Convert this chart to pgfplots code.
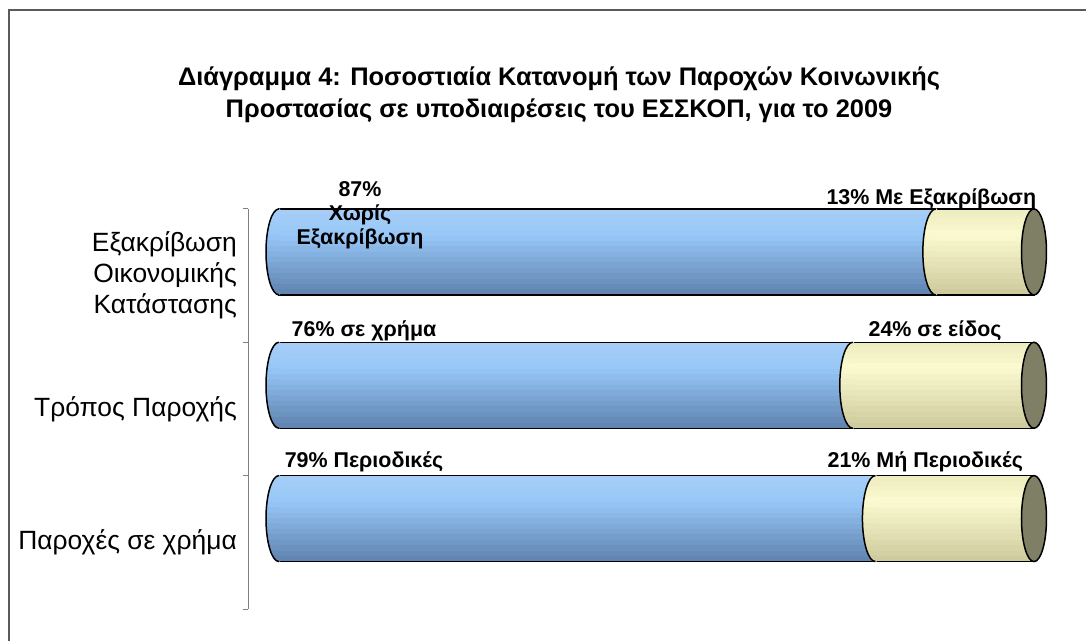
\documentclass[border=0pt]{standalone}
\usepackage{fontspec}
\setmainfont{Liberation Sans}
\usepackage{pgfplots}
\pgfplotsset{compat=1.18}
\usepackage{pgfplotstable}
\definecolor{bluetop}{HTML}{A6CEF6}
\definecolor{bluelight}{HTML}{98C8F8}
\definecolor{bluebot}{HTML}{5F82AE}
\definecolor{creamtop}{HTML}{EDEBBE}
\definecolor{creamlight}{HTML}{FBFAD0}
\definecolor{creambot}{HTML}{CDC99C}
\definecolor{capolive}{HTML}{7F7F66}
\definecolor{axisgray}{HTML}{808080}
\definecolor{framegray}{HTML}{5A5A5A}

% 16 horizontal bands of colour from the top (k=0) to the bottom (k=15) of a cylinder
\foreach \k in {0,...,15}{%
  \pgfmathsetmacro\t{(\k+0.5)/16}%
  \pgfmathtruncatemacro\up{\t<0.3}%
  \ifnum\up=1
    \pgfmathsetmacro\p{100*(1-\t/0.3)}%
    \xglobal\colorlet{bb\k}{bluetop!\p!bluelight}%
    \xglobal\colorlet{cc\k}{creamtop!\p!creamlight}%
  \else
    \pgfmathsetmacro\p{100*(1-(\t-0.3)/0.7)}%
    \xglobal\colorlet{bb\k}{bluelight!\p!bluebot}%
    \xglobal\colorlet{cc\k}{creamlight!\p!creambot}%
  \fi
}

% left half of an end ellipse, filled band by band like the bars (no clipping)
\newcommand\halfcap[1]{%
  \foreach \k in {0,...,15}{%
    \pgfmathsetmacro\yt{min(43,(7.5-\k)*5.375+2.9875)}%
    \pgfmathsetmacro\yb{max(-43,(7.5-\k)*5.375-2.9875)}%
    \pgfmathsetmacro\at{180-asin(\yt/43)}%
    \pgfmathsetmacro\ab{180-asin(\yb/43)}%
    \fill[#1\k] (1bp,{\yt*1bp}) -- ({13*cos(\at)*1bp},{43*sin(\at)*1bp})
      arc[start angle=\at,end angle=\ab,x radius=13bp,y radius=43bp]
      -- (1bp,{\yb*1bp}) -- cycle;
  }%
  \draw[line width=1.5bp,black] (0bp,43bp) arc[start angle=90,end angle=270,x radius=13bp,y radius=43bp];
}
\pgfdeclareplotmark{capblue}{\halfcap{bb}}
\pgfdeclareplotmark{capcream}{\halfcap{cc}}
\pgfdeclareplotmark{capend}{%
  \filldraw[fill=capolive,draw=black,line width=1.5bp] (0bp,0bp) ellipse [x radius=12.5bp,y radius=43bp];
}

% one small table per category: position, first share, second share
\pgfplotstableread{
pos blue cream
2.678 87 13
}\rowA
\pgfplotstableread{
pos blue cream
1.678 76 24
}\rowB
\pgfplotstableread{
pos blue cream
0.678 79 21
}\rowC

\newcommand\cylinder[1]{%
  \pgfplotsinvokeforeach{0,...,15}{%
    \addplot[xbar,bar width=5.975bp,bar shift=0pt,draw=none,fill=cc##1]
      table[x expr=\thisrow{blue}+\thisrow{cream},y expr=\thisrow{pos}+(7.5-##1)*0.0403125] {#1};
  }
  \pgfplotsinvokeforeach{0,...,15}{%
    \addplot[xbar,bar width=5.975bp,bar shift=0pt,draw=none,fill=bb##1]
      table[x=blue,y expr=\thisrow{pos}+(7.5-##1)*0.0403125] {#1};
  }
  \addplot[xbar,bar width=86bp,bar shift=0pt,draw=black,fill=none,line width=1.5bp]
    table[x expr=\thisrow{blue}+\thisrow{cream},y=pos] {#1};
  \addplot[only marks,mark=capblue] table[x expr=0,y=pos] {#1};
  \addplot[only marks,mark=capcream] table[x=blue,y=pos] {#1};
  \addplot[only marks,mark=capend] table[x expr=\thisrow{blue}+\thisrow{cream},y=pos] {#1};
}

\begin{document}
\begin{tikzpicture}
\useasboundingbox (0,0) rectangle (1086bp,641bp);
\draw[framegray,line width=2bp] (9bp,0) -- (9bp,631bp) -- (1086bp,631bp);
\node[font=\bfseries\fontsize{25.5}{32}\selectfont,align=center] at (559bp,546.5bp)
  {Διάγραμμα 4: Ποσοστιαία Κατανομή των Παροχών Κοινωνικής\\Προστασίας σε υποδιαιρέσεις του ΕΣΣΚΟΠ, για το 2009};
\begin{axis}[
  at={(248bp,32bp)}, anchor=south west, scale only axis,
  width=822bp, height=400bp,
  xmin=-4.106, xmax=104.77, ymin=0, ymax=3,
  clip=false,
  hide x axis,
  axis y line*=left,
  y axis line style={draw=axisgray,line width=1bp},
  ytick={0.5,1.5,2.5},
  yticklabels={Παροχές σε χρήμα,Τρόπος Παροχής,{Εξακρίβωση\\Οικονομικής\\Κατάστασης}},
  yticklabel style={align=right,font=\fontsize{26.5}{31}\selectfont,inner sep=0pt,xshift=-11bp},
  major tick length=0pt,
  extra y ticks={0,1,2,3},
  extra y tick labels={},
  extra y tick style={major tick length=5bp,tick align=outside,
    major tick style={draw=axisgray,line width=1bp}},
]
\cylinder{\rowA}
\cylinder{\rowB}
\cylinder{\rowC}
% data labels
\begin{scope}[every node/.style={font=\bfseries\fontsize{21.5}{24}\selectfont,align=center,inner sep=0pt}]
\node at (axis cs:10.73,2.955) {87\%\\Χωρίς\\Εξακρίβωση};
\node[anchor=base] at (axis cs:86.4,3.030) {13\% Με Εξακρίβωση};
\node[anchor=base] at (axis cs:11.26,2.044) {76\% σε χρήμα};
\node[anchor=base] at (axis cs:86.9,2.044) {24\% σε είδος};
\node[anchor=base] at (axis cs:11.26,1.061) {79\% Περιοδικές};
\node[anchor=base] at (axis cs:85.6,1.061) {21\% Μή Περιοδικές};
\end{scope}
\end{axis}
\end{tikzpicture}
\end{document}
